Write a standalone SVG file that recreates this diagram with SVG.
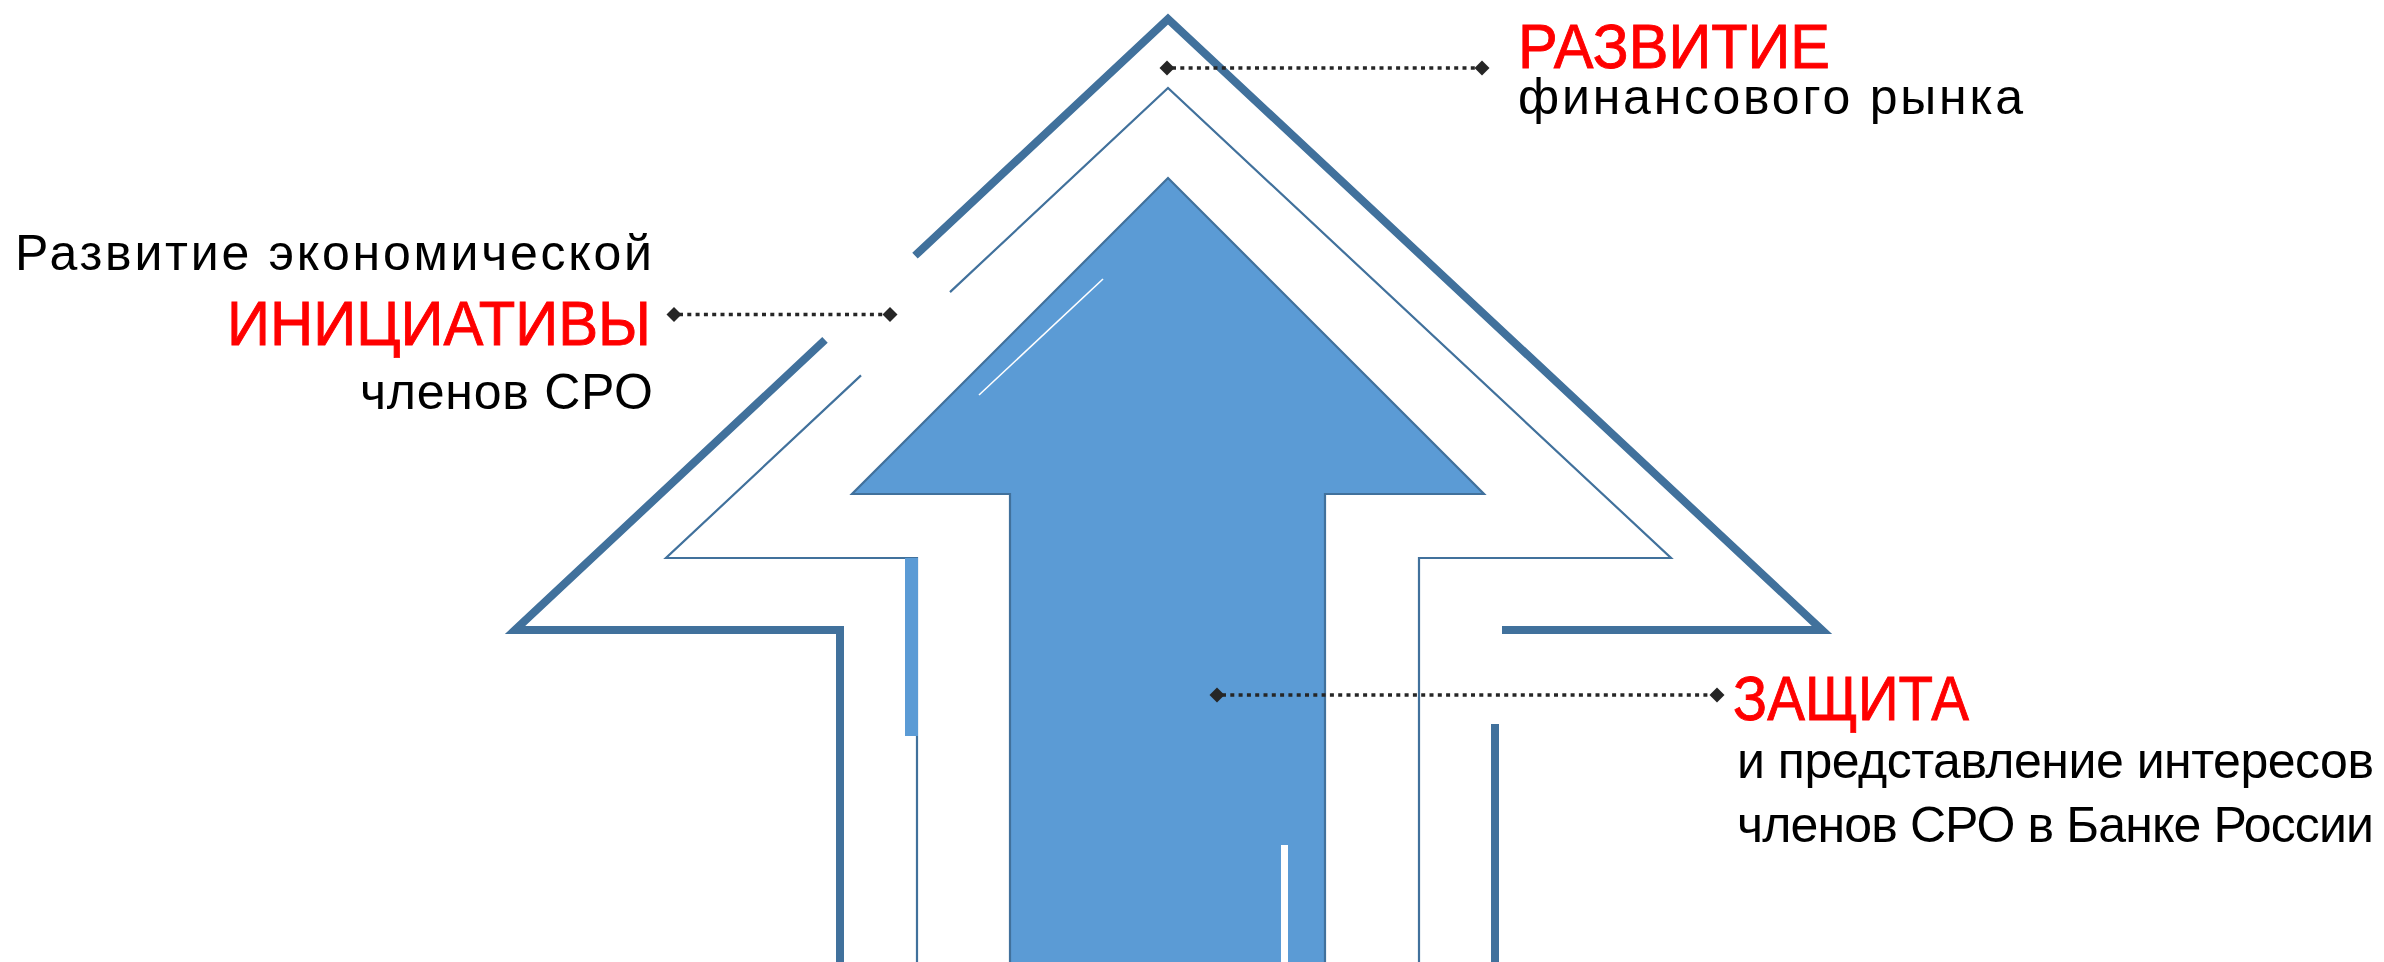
<svg xmlns="http://www.w3.org/2000/svg" width="2384" height="962" viewBox="0 0 2384 962">
<style>
.thick{fill:none;stroke:#41719C;stroke-width:8;stroke-linejoin:miter;stroke-miterlimit:10}
.thin{fill:none;stroke:#41719C;stroke-width:2.2;stroke-linejoin:miter;stroke-miterlimit:10}
.dots{fill:none;stroke:#262626;stroke-width:3.5;stroke-dasharray:4 4.3}
.dia{fill:#262626}
.blk{font-family:"Liberation Sans",Arial,sans-serif;font-size:50px;fill:#000}
.red{font-family:"Liberation Sans",Arial,sans-serif;font-size:63px;fill:#FF0000;stroke:#FF0000;stroke-width:0.9}
</style>
<defs>
<path id="d" d="M0,-7.5 L7.5,0 L0,7.5 L-7.5,0 Z"/>
</defs>
<rect width="2384" height="962" fill="#fff"/>
<g id="outer-frame">
<path class="thick" d="M840,962 L840,630 L515,630 L825,339.9"/>
<path class="thick" d="M915,255.7 L1168,19 L1822,630 L1502,630"/>
<path class="thick" d="M1495,724 L1495,962"/>
</g>
<g id="middle-frame">
<path class="thin" d="M917,962 L917,558 L666,558 L861,375.4"/>
<path class="thin" d="M950,292.1 L1168,88 L1671,558 L1419,558 L1419,962"/>
<rect x="905" y="558" width="13" height="178" fill="#5B9BD5"/>
</g>
<g id="arrow">
<path d="M1010,970 L1010,494 L852,494 L1168,178 L1484,494 L1325,494 L1325,970 Z" fill="#5B9BD5" stroke="#41719C" stroke-width="2.2"/>
<line x1="1103" y1="279" x2="979" y2="395" stroke="#fff" stroke-width="1.6"/>
<rect x="1281" y="845" width="7" height="120" fill="#fff"/>
</g>
<g id="connectors">
<line class="dots" x1="1172" y1="68" x2="1477" y2="68"/>
<use href="#d" x="1167" y="68" class="dia"/>
<use href="#d" x="1482" y="68" class="dia"/>
<line class="dots" x1="679" y1="314.5" x2="885" y2="314.5"/>
<use href="#d" x="674" y="314.5" class="dia"/>
<use href="#d" x="890" y="314.5" class="dia"/>
<line class="dots" x1="1222" y1="695" x2="1712" y2="695"/>
<use href="#d" x="1217" y="695" class="dia"/>
<use href="#d" x="1717" y="695" class="dia"/>
</g>
<g id="label-initiative">
<text class="blk" x="15" y="270" textLength="637" lengthAdjust="spacing">Развитие экономической</text>
<text class="red" x="227" y="345" textLength="424" lengthAdjust="spacingAndGlyphs">ИНИЦИАТИВЫ</text>
<text class="blk" x="360" y="409" textLength="293" lengthAdjust="spacing">членов СРО</text>
</g>
<g id="label-development">
<text class="red" x="1518" y="68" textLength="312" lengthAdjust="spacingAndGlyphs">РАЗВИТИЕ</text>
<text class="blk" x="1518" y="114" textLength="505" lengthAdjust="spacing">финансового рынка</text>
</g>
<g id="label-protection">
<text class="red" x="1733" y="720" textLength="236" lengthAdjust="spacingAndGlyphs">ЗАЩИТА</text>
<text class="blk" x="1737" y="778" textLength="637" lengthAdjust="spacing">и представление интересов</text>
<text class="blk" x="1737" y="842" textLength="637" lengthAdjust="spacing">членов СРО в Банке России</text>
</g>
</svg>
